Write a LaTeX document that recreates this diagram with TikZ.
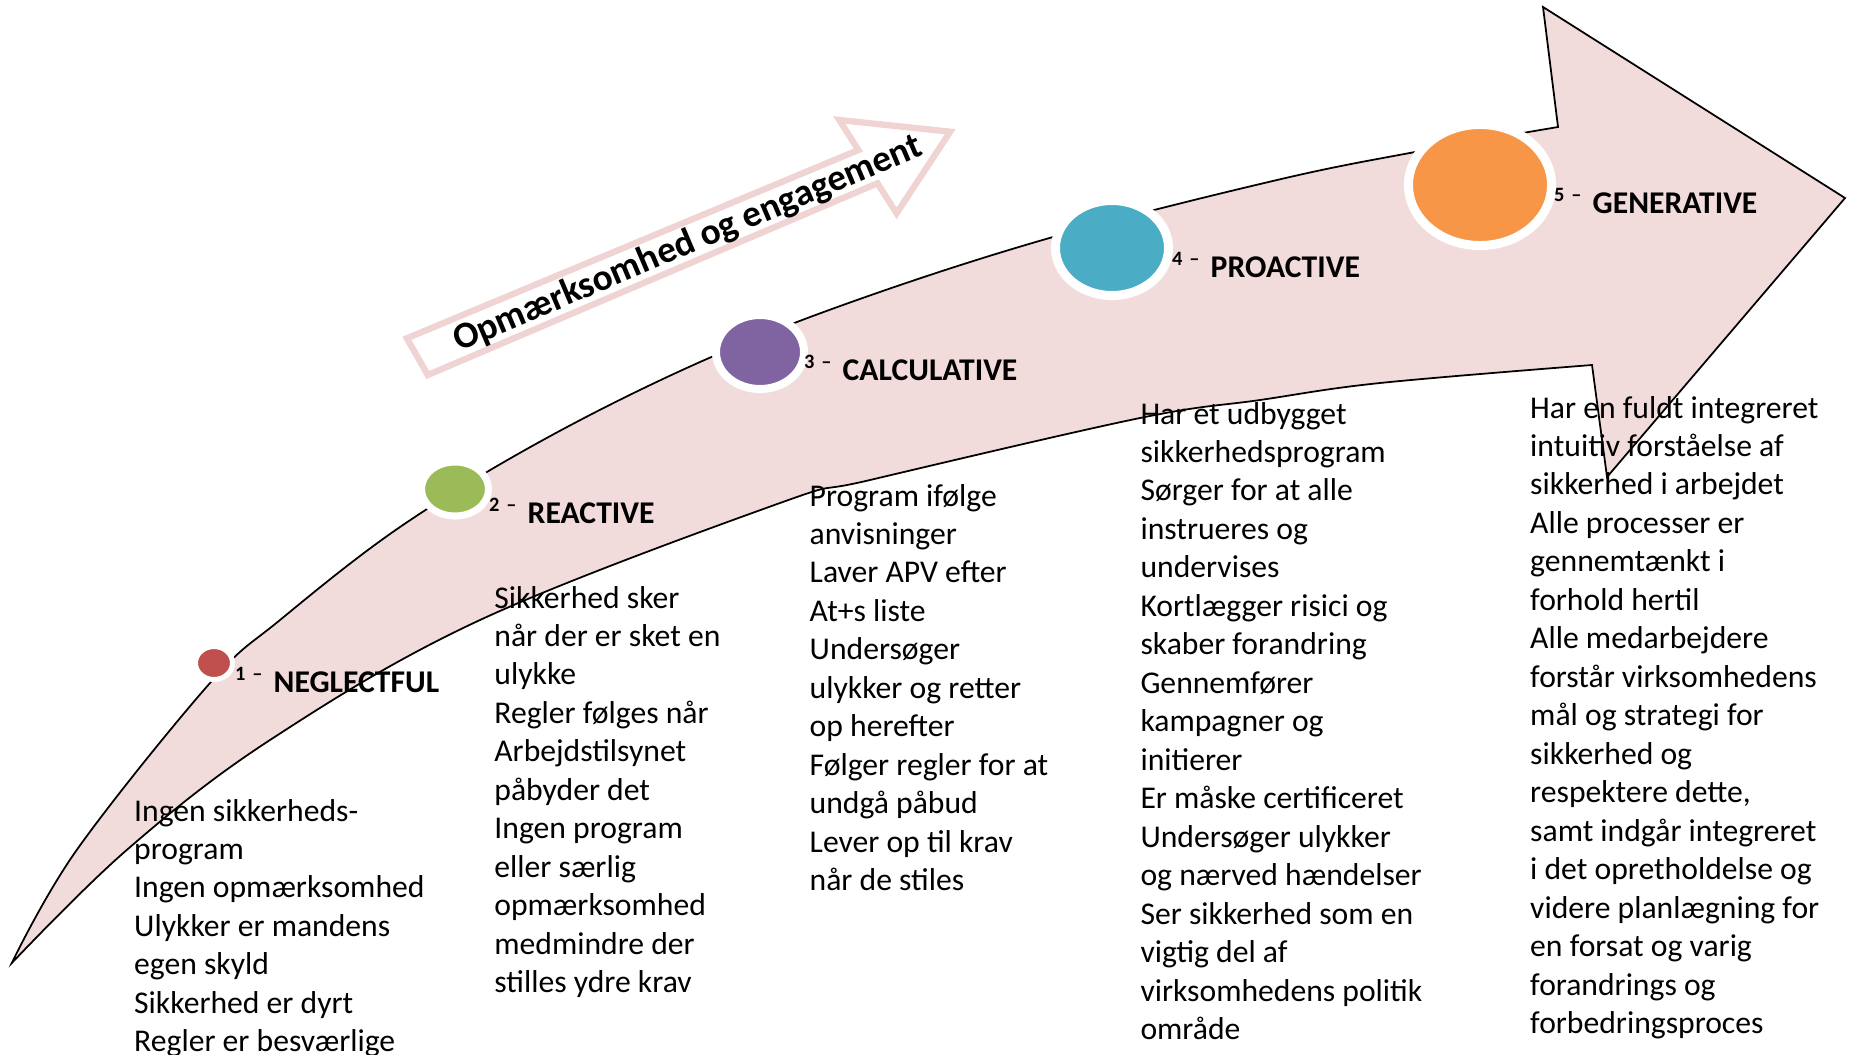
\documentclass[tikz,border=0pt]{standalone}
\usepackage{fontspec}
\setmainfont{Carlito}
\usetikzlibrary{shapes.geometric}
\definecolor{arrowfill}{HTML}{F2DCDB}
\definecolor{hollowline}{HTML}{F0D4D4}
\definecolor{cred}{HTML}{C0504D}
\definecolor{cgreen}{HTML}{9BBB59}
\definecolor{cpurple}{HTML}{8064A2}
\definecolor{cblue}{HTML}{4BACC6}
\definecolor{corange}{HTML}{F79646}
\newcommand\stepnum[1]{\raisebox{3.4pt}{\fontsize{5.8}{6}\selectfont\bfseries #1}}
\newcommand\bodytext[1]{\parbox[t]{8cm}{\fontsize{9}{10.94}\selectfont\raggedright #1}}
\begin{document}
\begin{tikzpicture}[x=0.01cm,y=-0.01cm,
  stage/.style={ellipse, inner sep=0pt, draw=white},
  steplabel/.style={anchor=base west, inner sep=0pt, font=\fontsize{9}{11}\selectfont\bfseries},
  coltext/.style={anchor=base west, inner sep=0pt}]
\useasboundingbox (0,0) rectangle (1852,1054);
% big curved arrow
\filldraw[fill=arrowfill, draw=black, line width=0.5pt, line join=miter]
  plot[smooth, tension=0.6] coordinates {(11.8,963) (76.7,850) (210,683) (280,620) (400,527) (543,440) (700,362) (857,300) (1053,237) (1277,180) (1415,152) (1558,127)}
  -- (1543,7) -- (1845,198) -- (1607,477) -- (1592,365)
  -- plot[smooth, tension=0.6] coordinates {(1592,365) (1380,383) (1260,400) (1140,418) (870,480) (780,503) (480,620) (270,740) (126.7,850) (11.8,963)}
  -- cycle;
% hollow arrow
\draw[hollowline, line width=1.8pt, fill=white, line join=miter]
  (406.8,338.3) -- (858.4,150) -- (839.2,120) -- (950.2,131.7) -- (896.6,213.3) -- (877.5,183.3) -- (427.8,375) -- cycle;
\node[rotate=23, inner sep=0pt, font=\fontsize{10.6}{12}\selectfont\bfseries] (awareness) at (688,244) {Opmærksomhed og engagement};
% stage circles
\node[stage, fill=cred, line width=1.42pt, minimum width=0.37cm, minimum height=0.33cm] (s1) at (214,663) {};
\node[stage, fill=cgreen, line width=2pt, minimum width=0.67cm, minimum height=0.54cm] (s2) at (455,489) {};
\node[stage, fill=cpurple, line width=2.28pt, minimum width=0.88cm, minimum height=0.74cm] (s3) at (760,352) {};
\node[stage, fill=cblue, line width=2.56pt, minimum width=1.13cm, minimum height=0.95cm] (s4) at (1112,248) {};
\node[stage, fill=corange, line width=2.56pt, minimum width=1.43cm, minimum height=1.21cm] (s5) at (1480,185) {};
% stage labels
\node[steplabel] (l1) at (273,692) {\llap{\stepnum{1\,\,–}\hspace{3.2pt}}NEGLECTFUL};
\node[steplabel] (l2) at (527,523) {\llap{\stepnum{2\,\,–}\hspace{3.2pt}}REACTIVE};
\node[steplabel] (l3) at (842,380) {\llap{\stepnum{3\,\,–}\hspace{3.2pt}}CALCULATIVE};
\node[steplabel] (l4) at (1210,277) {\llap{\stepnum{4\,\,–}\hspace{3.2pt}}PROACTIVE};
\node[steplabel] (l5) at (1592,213) {\llap{\stepnum{5\,\,–}\hspace{3.2pt}}GENERATIVE};
% column texts
\node[coltext] (t1) at (133.5,821) {\bodytext{Ingen sikkerheds-\\program\\Ingen opmærksomhed\\Ulykker er mandens\\egen skyld\\Sikkerhed er dyrt\\Regler er besværlige}};
\node[coltext] (t2) at (493.7,608) {\bodytext{Sikkerhed sker\\når der er sket en\\ulykke\\Regler følges når\\Arbejdstilsynet\\påbyder det\\Ingen program\\eller særlig\\opmærksomhed\\medmindre der\\stilles ydre krav}};
\node[coltext] (t3) at (809,506) {\bodytext{Program ifølge\\anvisninger\\Laver APV efter\\At+s liste\\Undersøger\\ulykker og retter\\op herefter\\Følger regler for at\\undgå påbud\\Lever op til krav\\når de stiles}};
\node[coltext] (t4) at (1139.8,424) {\bodytext{Har et udbygget\\sikkerhedsprogram\\Sørger for at alle\\instrueres og\\undervises\\Kortlægger risici og\\skaber forandring\\Gennemfører\\kampagner og\\initierer\\Er måske certificeret\\Undersøger ulykker\\og nærved hændelser\\Ser sikkerhed som en\\vigtig del af\\virksomhedens politik\\område}};
\node[coltext] (t5) at (1529.5,418) {\bodytext{Har en fuldt integreret\\intuitiv forståelse af\\sikkerhed i arbejdet\\Alle processer er\\gennemtænkt i\\forhold hertil\\Alle medarbejdere\\forstår virksomhedens\\mål og strategi for\\sikkerhed og\\respektere dette,\\samt indgår integreret\\i det opretholdelse og\\videre planlægning for\\en forsat og varig\\forandrings og\\forbedringsproces}};
\end{tikzpicture}
\end{document}
